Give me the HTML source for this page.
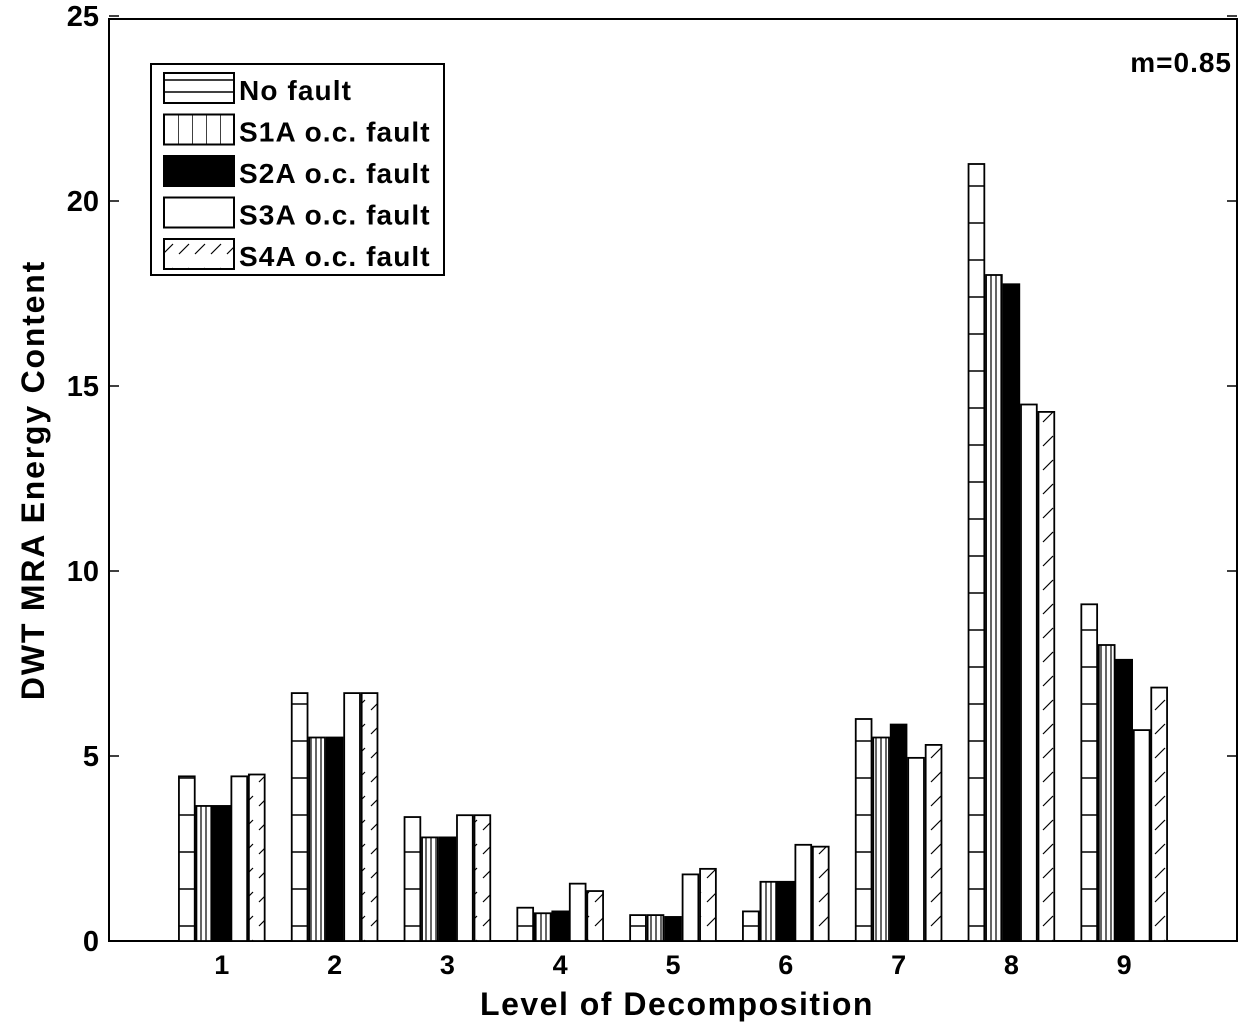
<!DOCTYPE html>
<html><head><meta charset="utf-8"><style>
body{margin:0;background:#fff;}
svg text{font-family:"Liberation Sans",sans-serif;font-weight:bold;fill:#000;}
</style></head><body>
<svg id="chart" width="1255" height="1029" viewBox="0 0 1255 1029" xmlns="http://www.w3.org/2000/svg">
<defs>
<pattern id="p-h" patternUnits="userSpaceOnUse" width="40" height="37"><rect width="40" height="37" fill="#fff"/><line x1="0" y1="1" x2="40" y2="1" stroke="#000" stroke-width="1.5"/></pattern>
<pattern id="p-v" patternUnits="userSpaceOnUse" width="5" height="10"><rect width="5" height="10" fill="#fff"/><line x1="1" y1="0" x2="1" y2="10" stroke="#000" stroke-width="1.2"/></pattern>
<pattern id="p-vl" patternUnits="userSpaceOnUse" width="14" height="10" x="164"><rect width="14" height="10" fill="#fff"/><line x1="0" y1="0" x2="0" y2="10" stroke="#000" stroke-width="1.5"/></pattern>
<pattern id="p-d" patternUnits="userSpaceOnUse" width="16" height="24"><rect width="16" height="24" fill="#fff"/><line x1="3" y1="14" x2="13" y2="4" stroke="#000" stroke-width="1.2"/></pattern>
</defs>
<g id="plot"></g>
<g id="legend">
<rect x="151" y="64" width="293" height="211" fill="#fff" stroke="#000" stroke-width="2"/>
</g>
<text x="1232" y="72" font-size="28" letter-spacing="1" text-anchor="end">m=0.85</text>
<text x="677" y="1015" font-size="32" letter-spacing="1.5" text-anchor="middle">Level of Decomposition</text>
<text transform="translate(44,480) rotate(-90)" font-size="32" letter-spacing="1.8" text-anchor="middle">DWT MRA Energy Content</text>
</svg>
<script>
const categories = [1,2,3,4,5,6,7,8,9];
const seriesNames = ["No fault","S1A o.c. fault","S2A o.c. fault","S3A o.c. fault","S4A o.c. fault"];
const noFault = [4.45,6.7,3.35,0.9,0.7,0.8,6.0,21.0,9.1];
const s1a = [3.65,5.5,2.8,0.75,0.7,1.6,5.5,18.0,8.0];
const s2a = [3.65,5.5,2.8,0.8,0.65,1.6,5.85,17.75,7.6];
const s3a = [4.45,6.7,3.4,1.55,1.8,2.6,4.95,14.5,5.7];
const s4a = [4.5,6.7,3.4,1.35,1.95,2.55,5.3,14.3,6.85];
const yTicks = [0,5,10,15,20,25];
const series = [noFault,s1a,s2a,s3a,s4a];
const fills = ["url(#p-h)","url(#p-v)","#000","#fff","url(#p-d)"];
const legendFills = ["#fff","url(#p-vl)","#000","#fff","url(#p-d)"];
const NS="http://www.w3.org/2000/svg";
const L=109,R=1237,T=16,B=941;
const xs=v=>L+(v-0)*(R-L)/10;
const ys=v=>B-v*(B-T)/25;
function mk(t,a,p){const e=document.createElementNS(NS,t);for(const k in a)e.setAttribute(k,a[k]);p.appendChild(e);return e;}
const plot=document.getElementById('plot');
const box=mk('rect',{x:L,y:19,width:R-L,height:B-19,fill:'#fff',stroke:'#000','stroke-width':2},plot);


series.forEach((s,si)=>{
  s.forEach((v,ci)=>{
    const cx=xs(categories[ci])+(si-2)*0.155*(R-L)/10;
    const w=0.14*(R-L)/10;
    const r=mk('rect',{x:cx-w/2,y:ys(v),width:w,height:ys(0)-ys(v),fill:fills[si],stroke:'#000','stroke-width':1.8},plot);
    
    
  });
});
yTicks.forEach(t=>{
  mk('line',{x1:L,y1:ys(t),x2:L+10,y2:ys(t),stroke:'#000','stroke-width':1.5},plot);
  mk('line',{x1:R,y1:ys(t),x2:R-10,y2:ys(t),stroke:'#000','stroke-width':1.5},plot);
  const tx=mk('text',{x:L-10,y:ys(t)+10,'font-size':29,'text-anchor':'end',style:'font-family:"Liberation Sans Narrow","Liberation Sans",sans-serif'},plot);
  tx.textContent=t;
  
  
});
categories.forEach(c=>{
  mk('line',{x1:xs(c),y1:B,x2:xs(c),y2:B-10,stroke:'#000','stroke-width':1.5},plot);
  const tx=mk('text',{x:xs(c),y:B+33,'font-size':27,'text-anchor':'middle'},plot);
  tx.textContent=c;
  
  
});
const lg=document.getElementById('legend');
seriesNames.forEach((n,i)=>{
  const y=73+i*41.5;
  const sw=mk('rect',{x:164,y:y,width:70,height:30,fill:legendFills[i],stroke:'#000','stroke-width':2},lg);
  
  
  if(i===0){mk('line',{x1:164,y1:y+7,x2:234,y2:y+7,stroke:'#000','stroke-width':1.5},lg);mk('line',{x1:164,y1:y+19,x2:234,y2:y+19,stroke:'#000','stroke-width':1.5},lg);}
  const tx=mk('text',{x:239,y:y+27,'font-size':28,'letter-spacing':'1.1'},lg);
  tx.textContent=n;
  
  
});
</script>
</body></html>
